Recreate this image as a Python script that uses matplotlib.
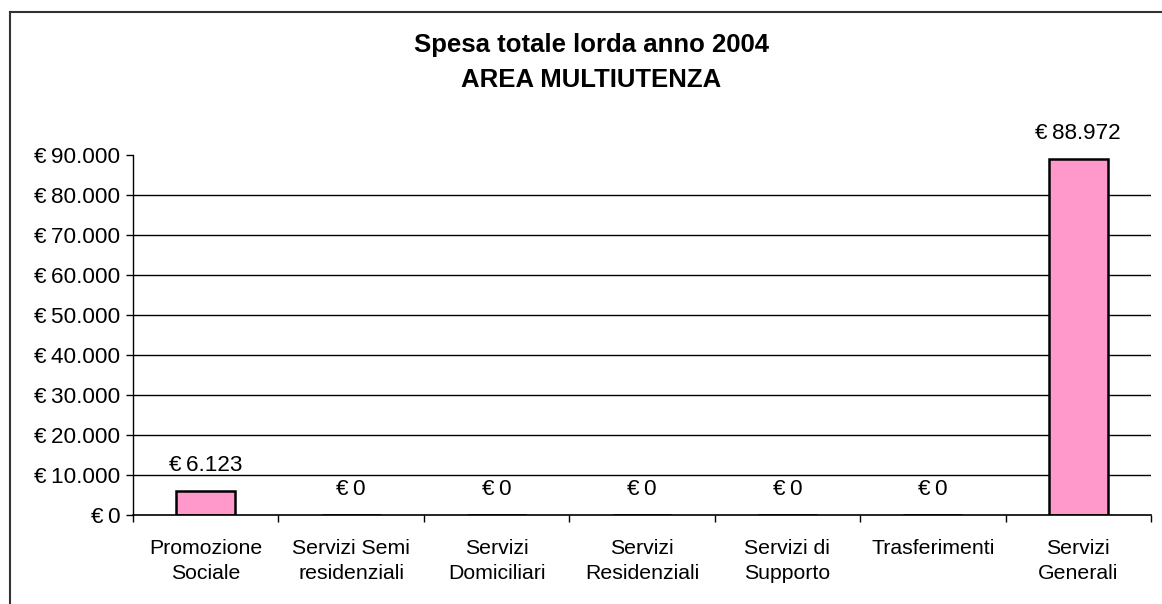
import matplotlib
matplotlib.use("Agg")
import matplotlib.pyplot as plt
from matplotlib.lines import Line2D
from matplotlib.ticker import FixedLocator, FuncFormatter
import numpy as np

categories = ["Promozione\nSociale", "Servizi Semi\nresidenziali", "Servizi\nDomiciliari",
              "Servizi\nResidenziali", "Servizi di\nSupporto", "Trasferimenti", "Servizi\nGenerali"]
values = [6123, 0, 0, 0, 0, 0, 88972]
y_ticks = [0, 10000, 20000, 30000, 40000, 50000, 60000, 70000, 80000, 90000]
title = "Spesa totale lorda anno 2004\nAREA MULTIUTENZA"

plt.rcParams['font.family'] = ['Liberation Sans', 'DejaVu Sans']

W, H = 1162, 604
fig = plt.figure(figsize=(W / 100, H / 100), dpi=100)
ax = fig.add_axes([133 / W, (H - 515) / H, (1151 - 133) / W, (515 - 155) / H])

def euro(v):
    s = f"{int(v):,}".replace(",", ".")
    return "\u20ac\u2009" + s

x = np.arange(len(categories))
bars = ax.bar(x, values, width=0.405, color="#FF99CC", edgecolor="black", linewidth=1.8, zorder=3)

ax.set_xlim(-0.5, len(categories) - 0.5)
ax.set_ylim(0, 90000)
ax.yaxis.set_major_locator(FixedLocator(y_ticks))
ax.yaxis.set_major_formatter(FuncFormatter(lambda v, p: euro(v)))
for t in y_ticks[1:-1]:
    ax.axhline(t, color="black", linewidth=1.0, zorder=1)

ax.set_xticks(x)
ax.set_xticklabels(categories, fontsize=15.3, linespacing=1.4)
ax.tick_params(axis="x", which="major", length=0, pad=17)
ax.xaxis.set_minor_locator(FixedLocator(np.arange(-0.5, len(categories), 1.0)))
ax.tick_params(axis="x", which="minor", length=5, width=1, direction="out")
ax.tick_params(axis="y", length=5, width=1, direction="out", labelsize=16.2, pad=4)

for s in ["top", "right"]:
    ax.spines[s].set_visible(False)
ax.spines["left"].set_linewidth(1.0)
ax.spines["bottom"].set_linewidth(1.2)
ax.spines["bottom"].set_zorder(4)

for xi, v in zip(x, values):
    ax.annotate(euro(v), (xi, v), xytext=(0, 15), textcoords="offset pixels",
                ha="center", va="bottom", fontsize=16.2)

fig.text(591 / W, 1 - 62.5 / H, title, ha="center", va="center", fontsize=18.5,
         fontweight="bold", linespacing=1.6)

fig.add_artist(Line2D([9.5 / W, 9.5 / W], [0, 1 - 12 / H], transform=fig.transFigure,
                      color="#333333", linewidth=1.5))
fig.add_artist(Line2D([9.5 / W, 1], [1 - 12 / H, 1 - 12 / H], transform=fig.transFigure,
                      color="#333333", linewidth=1.5))

fig.savefig("out.png", dpi=100, facecolor="white")
